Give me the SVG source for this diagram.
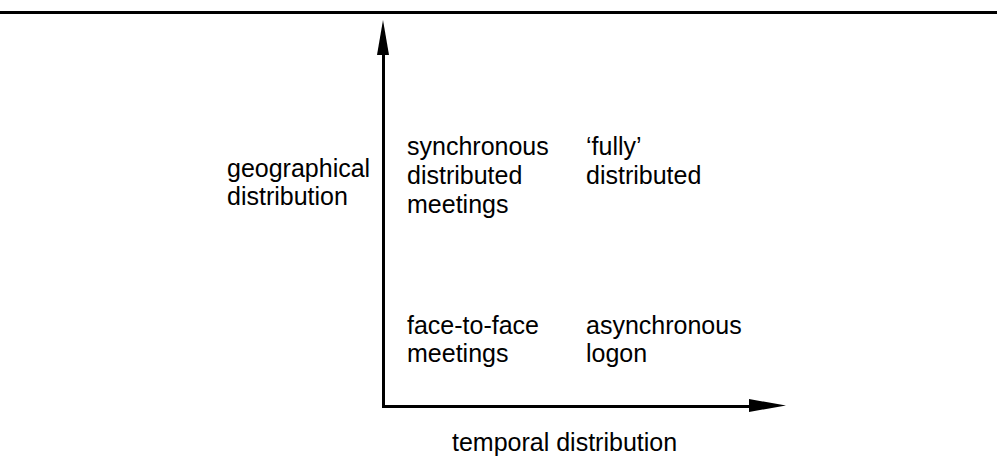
<svg xmlns="http://www.w3.org/2000/svg" width="997" height="456" viewBox="0 0 997 456">
<style>
text{font-family:"Liberation Sans",Arial,Helvetica,sans-serif;font-size:25px;fill:#000}
.ax{stroke:#000;stroke-width:3;fill:none}
.hd{fill:#000;stroke:none}
</style>
<rect width="997" height="456" fill="#fff"/>
<line x1="0" y1="12.5" x2="997" y2="12.5" stroke="#000" stroke-width="3"/>
<g id="connectors">
<line class="ax" x1="383.5" y1="52" x2="383.5" y2="408"/>
<polygon class="hd" points="383,20 377,55 389,55"/>
<line class="ax" x1="382" y1="406.5" x2="752" y2="406.5"/>
<polygon class="hd" points="749,399 786,405.5 749,412"/>
</g>
<g id="y-axis-label"><text x="227" y="177">geographical</text><text x="227" y="205">distribution</text></g>
<g id="x-axis-label"><text x="452" y="451">temporal distribution</text></g>
<g id="sync-distributed"><text x="407" y="155">synchronous</text><text x="407" y="184">distributed</text><text x="407" y="213">meetings</text></g>
<g id="fully-distributed"><text x="586" y="155">‘fully’</text><text x="586" y="184">distributed</text></g>
<g id="face-to-face"><text x="407" y="334">face-to-face</text><text x="407" y="362">meetings</text></g>
<g id="async-logon"><text x="586" y="334">asynchronous</text><text x="586" y="362">logon</text></g>
</svg>
